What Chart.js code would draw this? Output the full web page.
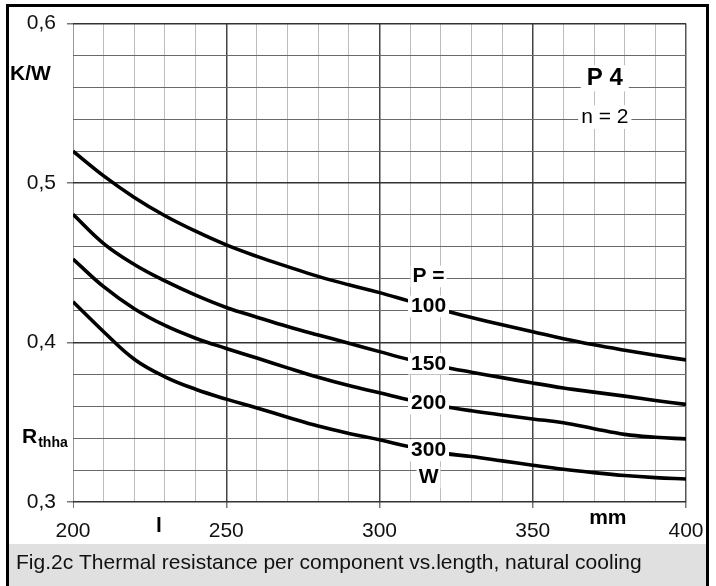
<!DOCTYPE html>
<html>
<head>
<meta charset="utf-8">
<script src="https://cdn.jsdelivr.net/npm/chart.js@4/dist/chart.umd.min.js"></script>
<style>
  html, body { margin: 0; background: #fff; }
  canvas { display: block; }
</style>
</head>
<body>
<canvas id="chart" width="716" height="586"></canvas>
<script>
// length l in mm, every 10 mm
const LENGTHS = [200, 210, 220, 230, 240, 250, 260, 270, 280, 290, 300,
                 310, 320, 330, 340, 350, 360, 370, 380, 390, 400];

// thermal resistance Rthha in K/W
const R_P100 = [0.520, 0.5045, 0.4910, 0.4795, 0.4698, 0.4612, 0.4540, 0.4476, 0.4415, 0.4362, 0.4313,
                0.4258, 0.4205, 0.4157, 0.4112, 0.4068, 0.4024, 0.3986, 0.3952, 0.3920, 0.3891];
const R_P150 = [0.4804, 0.4620, 0.4489, 0.4386, 0.4297, 0.4220, 0.4159, 0.4100, 0.4047, 0.3996, 0.3943,
                0.3892, 0.3850, 0.3814, 0.3780, 0.3746, 0.3715, 0.3689, 0.3664, 0.3637, 0.3612];
const R_P200 = [0.4524, 0.4350, 0.4212, 0.4107, 0.4027, 0.3963, 0.3903, 0.3841, 0.3782, 0.3730, 0.3685,
                0.3639, 0.3602, 0.3572, 0.3546, 0.3521, 0.3497, 0.3460, 0.3424, 0.3406, 0.3396];
const R_P300 = [0.4256, 0.4068, 0.3895, 0.3785, 0.3707, 0.3645, 0.3590, 0.3532, 0.3476, 0.3430, 0.3390,
                0.3346, 0.3308, 0.3285, 0.3258, 0.3231, 0.3205, 0.3184, 0.3166, 0.3153, 0.3144];

const SERIES = [
  { label: '100', data: R_P100 },
  { label: '150', data: R_P150 },
  { label: '200', data: R_P200 },
  { label: '300', data: R_P300 },
];

const X_MIN = 200, X_MAX = 400, X_STEP = 10, X_MAJOR = 50;
const Y_MIN = 0.3, Y_MAX = 0.6, Y_STEP = 0.02;
const LABEL_AT = 316;          // l where the power labels sit on the curves
const CAPTION = 'Fig.2c Thermal resistance per component vs.length, natural cooling';

const FONT = '"Liberation Sans", Arial, Helvetica, sans-serif';

const isMajorX = v => Math.round(v) % X_MAJOR === 0;
const isMajorY = v => Math.round(v * 100) % 10 === 0;

function valueAt(arr, l) {
  for (let i = 0; i < LENGTHS.length - 1; i++) {
    if (l >= LENGTHS[i] && l <= LENGTHS[i + 1]) {
      const t = (l - LENGTHS[i]) / (LENGTHS[i + 1] - LENGTHS[i]);
      return arr[i] + t * (arr[i + 1] - arr[i]);
    }
  }
  return arr[arr.length - 1];
}

function boxedText(ctx, text, x, y, font, padX, padY) {
  ctx.font = font;
  const w = ctx.measureText(text).width;
  const h = parseInt(font.match(/(\d+)px/)[1], 10);
  ctx.fillStyle = '#fff';
  ctx.fillRect(x - w / 2 - padX, y - h * 0.42 - padY, w + 2 * padX, h * 0.84 + 2 * padY);
  ctx.fillStyle = '#000';
  ctx.textAlign = 'center';
  ctx.textBaseline = 'middle';
  ctx.fillText(text, x, y);
}

const decor = {
  id: 'decor',
  beforeDraw(chart) {
    const ctx = chart.ctx;
    ctx.save();
    ctx.fillStyle = '#fff';
    ctx.fillRect(0, 0, chart.width, chart.height);
    ctx.restore();
  },
  afterDatasetsDraw(chart) {
    const ctx = chart.ctx;
    const xs = chart.scales.x, ys = chart.scales.y;
    const lx = xs.getPixelForValue(LABEL_AT);
    const bold = 'bold 21px ' + FONT;
    ctx.save();
    const py = SERIES.map(s => ys.getPixelForValue(valueAt(s.data, LABEL_AT)));
    boxedText(ctx, 'P =', lx, py[0] - 30, bold, 2, 2);
    SERIES.forEach((s, i) => boxedText(ctx, s.label, lx, py[i], bold, 3, 2));
    boxedText(ctx, 'W', lx, py[3] + 27, bold, 2, 2);

    const bx = xs.getPixelForValue(373.5);
    boxedText(ctx, 'P 4', bx, ys.getPixelForValue(0.5657), 'bold 24px ' + FONT, 6, 3);
    boxedText(ctx, 'n = 2', bx, ys.getPixelForValue(0.5414), '21px ' + FONT, 3, 3);
    ctx.restore();
  },
  afterDraw(chart) {
    const ctx = chart.ctx;
    const xs = chart.scales.x, ys = chart.scales.y;
    ctx.save();
    // axis titles
    ctx.fillStyle = '#000';
    ctx.textBaseline = 'middle';
    ctx.textAlign = 'left';
    ctx.font = 'bold 21px ' + FONT;
    ctx.fillText('K/W', 10, ys.getPixelForValue(0.568));
    const ry = ys.getPixelForValue(0.3405);
    ctx.fillText('R', 22, ry);
    const rw = ctx.measureText('R').width;
    ctx.font = 'bold 14px ' + FONT;
    ctx.fillText('thha', 22 + rw + 1, ry + 6);
    ctx.textAlign = 'center';
    ctx.font = 'bold 21px ' + FONT;
    ctx.fillText('l', xs.getPixelForValue(228), 526);
    ctx.fillText('mm', xs.getPixelForValue(374.5), 518);

    // caption strip
    ctx.fillStyle = '#e0e0e0';
    ctx.fillRect(9, 544, 697, 42);
    ctx.fillStyle = '#111';
    ctx.textAlign = 'left';
    ctx.font = '21px ' + FONT;
    ctx.fillText(CAPTION, 16, 563);

    // outer frame
    ctx.fillStyle = '#000';
    ctx.fillRect(6, 4, 703, 3);
    ctx.fillRect(6, 4, 3, 582);
    ctx.fillRect(706, 4, 3, 582);
    ctx.restore();
  },
};

new Chart(document.getElementById('chart'), {
  type: 'line',
  data: {
    datasets: SERIES.map(s => ({
      label: s.label,
      data: LENGTHS.map((l, i) => ({ x: l, y: s.data[i] })),
      borderColor: '#000',
      borderWidth: 3.6,
      pointRadius: 0,
      tension: 0.4,
      fill: false,
    })),
  },
  options: {
    responsive: false,
    animation: false,
    devicePixelRatio: 1,
    layout: { padding: { top: 18, right: 30, left: 0, bottom: 0 } },
    plugins: { legend: { display: false }, tooltip: { enabled: false } },
    scales: {
      x: {
        type: 'linear',
        min: X_MIN,
        max: X_MAX,
        border: { display: false },
        afterFit: s => { s.height = 84; },
        ticks: {
          stepSize: X_STEP,
          autoSkip: false,
          maxRotation: 0,
          padding: 11,
          color: '#111',
          font: { family: FONT, size: 21 },
          callback: v => (isMajorX(v) ? String(v) : ''),
        },
        grid: {
          drawTicks: true,
          tickLength: 6,
          color: c => {
            const v = c.tick.value;
            if (v === X_MIN) return '#999';
            if (v === X_MAX) return '#555';
            return isMajorX(v) ? '#444' : '#bdbdbd';
          },
          lineWidth: c => (isMajorX(c.tick.value) && c.tick.value !== X_MIN ? 1.5 : 1),
          tickColor: c => (isMajorX(c.tick.value) ? '#777' : 'rgba(0,0,0,0)'),
        },
      },
      y: {
        min: Y_MIN,
        max: Y_MAX,
        border: { display: false },
        afterFit: s => { s.width = 73; },
        ticks: {
          stepSize: Y_STEP,
          autoSkip: false,
          padding: 11,
          color: '#111',
          font: { family: FONT, size: 21 },
          callback: v => (isMajorY(v) ? v.toFixed(1).replace('.', ',') : ''),
        },
        grid: {
          drawTicks: true,
          tickLength: 6,
          color: c => (isMajorY(c.tick.value) ? '#333' : '#6a6a6a'),
          lineWidth: c => (isMajorY(c.tick.value) ? 1.5 : 1),
          tickColor: c => (isMajorY(c.tick.value) ? '#777' : 'rgba(0,0,0,0)'),
        },
      },
    },
  },
  plugins: [decor],
});
</script>
</body>
</html>
